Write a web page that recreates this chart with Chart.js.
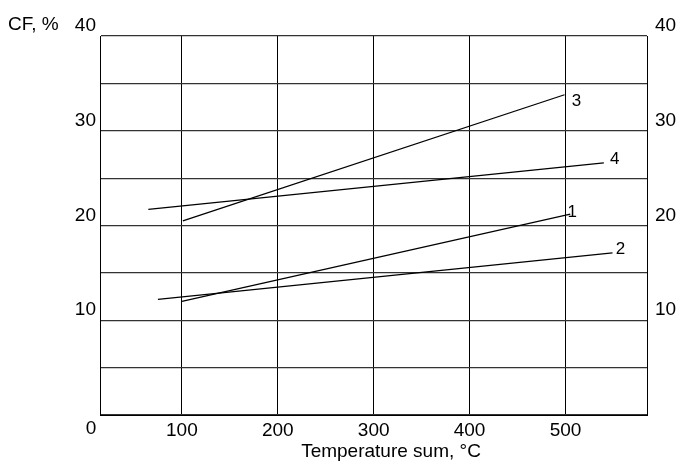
<!DOCTYPE html>
<html>
<head>
<meta charset="utf-8">
<script src="https://cdn.jsdelivr.net/npm/chart.js@4.4.1/dist/chart.umd.min.js"></script>
<style>
  html, body { margin: 0; padding: 0; background: #fff; }
  #wrap { width: 678px; height: 462px; }
</style>
</head>
<body>
<div id="wrap"><canvas id="cf"></canvas></div>
<script>
// curve data (temperature sum, CF %)
const temp1 = [100, 505];
const cf1 = [12.0, 21.2];
const temp2 = [75, 549];
const cf2 = [12.2, 17.1];
const temp3 = [101, 499];
const cf3 = [20.5, 33.8];
const temp4 = [65, 540];
const cf4 = [21.7, 26.6];

const curveNames = ['1', '2', '3', '4'];
const xTicks = [100, 200, 300, 400, 500];
const yTicks = [0, 5, 10, 15, 20, 25, 30, 35, 40];
const yLabelTicks = [10, 20, 30, 40];

const FONT = "'Liberation Sans', Arial, sans-serif";

function pts(xs, ys) {
  return xs.map((x, i) => ({ x: x, y: ys[i] }));
}

function lineSet(label, xs, ys) {
  return {
    label: label,
    data: pts(xs, ys),
    showLine: true,
    borderColor: '#000',
    borderWidth: 1.3,
    pointRadius: 0,
    fill: false,
  };
}

// where each curve number sits relative to the curve's end point
const nameOffsets = [[2, -2], [8, -4], [12, 7], [11, -4]];

const yLabel = (v) => yLabelTicks.includes(v) ? String(v) : '';

const textPlugin = {
  id: 'figureText',
  afterDraw(chart) {
    const { ctx, chartArea, scales } = chart;
    ctx.save();
    ctx.fillStyle = '#000';
    ctx.textBaseline = 'middle';

    // curve numbers
    ctx.font = '17px ' + FONT;
    ctx.textAlign = 'center';
    chart.data.datasets.forEach((ds, i) => {
      const last = ds.data[ds.data.length - 1];
      const px = scales.x.getPixelForValue(last.x) + nameOffsets[i][0];
      const py = scales.y.getPixelForValue(last.y) + nameOffsets[i][1];
      ctx.fillText(curveNames[i], px, py);
    });

    ctx.font = '19px ' + FONT;
    // origin label
    ctx.fillText('0', chartArea.left - 9, chartArea.bottom + 14);
    // axis titles
    ctx.fillText('Temperature sum, \u00B0C', 391, chartArea.bottom + 37);
    ctx.textAlign = 'left';
    ctx.fillText('CF, %', 8, chartArea.top - 11);
    ctx.restore();
  }
};

new Chart(document.getElementById('cf').getContext('2d'), {
  type: 'scatter',
  data: {
    datasets: [
      lineSet('1', temp1, cf1),
      lineSet('2', temp2, cf2),
      lineSet('3', temp3, cf3),
      lineSet('4', temp4, cf4),
    ]
  },
  options: {
    responsive: true,
    maintainAspectRatio: false,
    animation: false,
    layout: { padding: { top: 36, left: 0, right: 0, bottom: 0 } },
    plugins: {
      legend: { display: false },
      tooltip: { enabled: false },
    },
    scales: {
      x: {
        type: 'linear',
        min: 14.6,
        max: 585,
        afterBuildTicks: (scale) => { scale.ticks = xTicks.map(v => ({ value: v })); },
        afterFit: (scale) => { scale.height = 47; },
        grid: { color: '#000', lineWidth: 1, drawTicks: false },
        border: { display: true, color: '#000', width: 1 },
        ticks: { color: '#000', padding: 4, font: { family: FONT, size: 19 } },
      },
      y: {
        type: 'linear',
        position: 'left',
        min: 0,
        max: 40,
        afterBuildTicks: (scale) => { scale.ticks = yTicks.map(v => ({ value: v })); },
        afterFit: (scale) => { scale.width = 100; },
        grid: { color: '#333', lineWidth: 1.2, drawTicks: false },
        border: { display: true, color: '#000', width: 1 },
        ticks: {
          color: '#000', padding: 4, labelOffset: -10,
          font: { family: FONT, size: 19 },
          callback: yLabel,
        },
      },
      y2: {
        type: 'linear',
        position: 'right',
        min: 0,
        max: 40,
        afterBuildTicks: (scale) => { scale.ticks = yTicks.map(v => ({ value: v })); },
        afterFit: (scale) => { scale.width = 31; },
        grid: { display: false, drawTicks: false },
        border: { display: true, color: '#000', width: 1 },
        ticks: {
          color: '#000', padding: 8, labelOffset: -10,
          font: { family: FONT, size: 19 },
          callback: yLabel,
        },
      },
    }
  },
  plugins: [textPlugin]
});
</script>
</body>
</html>
